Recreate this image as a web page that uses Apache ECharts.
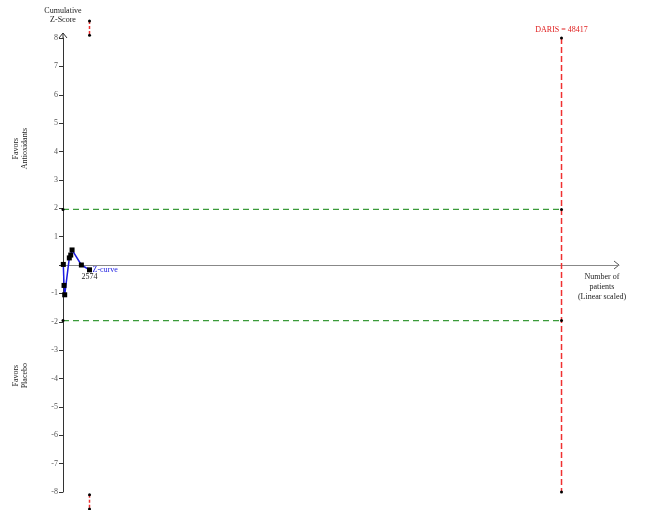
<!DOCTYPE html>
<html>
<head>
<meta charset="utf-8">
<script src="https://cdn.jsdelivr.net/npm/echarts@6/dist/echarts.min.js"></script>
<style>
  html, body { margin: 0; padding: 0; background: #fff; }
  #chart { width: 646px; height: 510px; }
</style>
</head>
<body>
<div id="chart"></div>
<script>
// cumulative z-curve (patients, z)
var zPatients = [30, 100, 165, 615, 750, 880, 1785, 2574];
var zScores = [0.02, -0.72, -1.05, 0.25, 0.35, 0.53, 0.0, -0.17];

// conventional boundaries and required information size
var sigLevel = 1.96;
var darisN = 48417;
var yLimit = 8;
// monitoring boundary at the last analysis (clipped above/below the axis)
var boundN = 2574;
var upperBound = [8.6, 8.1];
var lowerBound = [-8.1, -8.6];
var xMax = 54000;

var serif = 'Liberation Serif';
var dot = { symbol: 'circle', symbolSize: 3, itemStyle: { color: '#000' } };

var chartDom = document.getElementById('chart');
var myChart = echarts.init(chartDom);
var option;

option = {
    animation: false,
    backgroundColor: '#fff',
    grid: { left: 63, right: 27, top: 38, bottom: 18 },
    xAxis: {
        type: 'value',
        min: 0,
        max: xMax,
        axisLine: { show: true, onZero: true, lineStyle: { color: '#888', width: 1 } },
        axisTick: { show: false },
        axisLabel: { show: false },
        splitLine: { show: false }
    },
    yAxis: {
        type: 'value',
        min: -yLimit,
        max: yLimit,
        interval: 1,
        name: 'Cumulative\nZ-Score',
        nameLocation: 'end',
        nameGap: 14,
        nameTextStyle: { fontFamily: serif, fontSize: 8, color: '#222', lineHeight: 9 },
        axisLine: { show: true, lineStyle: { color: '#333', width: 1 } },
        axisTick: { show: true, length: 4, lineStyle: { color: '#333' } },
        axisLabel: {
            fontFamily: serif, fontSize: 8, color: '#555', margin: 5,
            formatter: function (v) { return v === 0 ? '' : String(v); }
        },
        splitLine: { show: false }
    },
    series: [
        {
            type: 'line', ...dot,
            data: [[0, sigLevel], [darisN, sigLevel]],
            lineStyle: { color: '#3a9a3a', width: 1.2, type: [6, 4] }
        },
        {
            type: 'line', ...dot,
            data: [[0, -sigLevel], [darisN, -sigLevel]],
            lineStyle: { color: '#3a9a3a', width: 1.2, type: [6, 4] }
        },
        {
            type: 'line', ...dot,
            data: [
                { value: [darisN, yLimit], label: {
                    show: true, position: 'top', distance: 3, formatter: 'DARIS = ' + darisN,
                    color: '#e02020', fontFamily: serif, fontSize: 8
                } },
                [darisN, -yLimit]
            ],
            lineStyle: { color: '#f03030', width: 1.5, type: [6, 3] }
        },
        {
            type: 'line', ...dot, clip: false,
            data: upperBound.map(function (z) { return [boundN, z]; }),
            lineStyle: { color: '#f03030', width: 1.5, type: [3, 2] }
        },
        {
            type: 'line', ...dot, clip: false,
            data: lowerBound.map(function (z) { return [boundN, z]; }),
            lineStyle: { color: '#f03030', width: 1.5, type: [3, 2] }
        },
        {
            type: 'line',
            symbol: 'rect',
            symbolSize: 5,
            itemStyle: { color: '#000' },
            lineStyle: { color: '#1a1ae0', width: 1.5 },
            data: zPatients.map(function (n, i) {
                var item = { value: [n, zScores[i]] };
                if (i === zPatients.length - 1) {
                    item.label = {
                        show: true, position: 'bottom', distance: 1, formatter: String(n),
                        color: '#222', fontFamily: serif, fontSize: 8
                    };
                }
                return item;
            }),
            endLabel: {
                show: true, formatter: 'Z-curve', distance: 3, offset: [0, 0],
                color: '#1a1ae0', fontFamily: serif, fontSize: 8
            }
        }
    ]
};

option && myChart.setOption(option);

// axis arrows and side captions
var yTop = myChart.convertToPixel({ gridIndex: 0 }, [0, yLimit]);
var xEnd = myChart.convertToPixel({ gridIndex: 0 }, [xMax, 0]);
var tipY = yTop[1] - 5;
var zUp = myChart.convertToPixel({ gridIndex: 0 }, [0, 4.1]);
var zDown = myChart.convertToPixel({ gridIndex: 0 }, [0, -3.9]);

myChart.setOption({
    graphic: [
        { type: 'line', shape: { x1: yTop[0], y1: yTop[1], x2: yTop[0], y2: tipY }, style: { stroke: '#333', lineWidth: 1 } },
        { type: 'polyline', shape: { points: [[yTop[0] - 4, tipY + 5], [yTop[0], tipY], [yTop[0] + 4, tipY + 5]] }, style: { stroke: '#333', fill: null, lineWidth: 1 } },
        { type: 'polyline', shape: { points: [[xEnd[0] - 5, xEnd[1] - 4], [xEnd[0], xEnd[1]], [xEnd[0] - 5, xEnd[1] + 4]] }, style: { stroke: '#555', fill: null, lineWidth: 1 } },
        { type: 'text', x: xEnd[0] - 17, y: xEnd[1] + 7, style: {
            text: 'Number of\npatients\n(Linear scaled)', align: 'center', verticalAlign: 'top',
            font: '8px "Liberation Serif"', fill: '#222', lineHeight: 10
        } },
        { type: 'text', x: 20, y: zUp[1], rotation: Math.PI / 2, style: {
            text: 'Favors\nAntioxidants', align: 'center', verticalAlign: 'middle',
            font: '8px "Liberation Serif"', fill: '#222', lineHeight: 9
        } },
        { type: 'text', x: 20, y: zDown[1], rotation: Math.PI / 2, style: {
            text: 'Favors\nPlacebo', align: 'center', verticalAlign: 'middle',
            font: '8px "Liberation Serif"', fill: '#222', lineHeight: 9
        } }
    ]
});
</script>
</body>
</html>
